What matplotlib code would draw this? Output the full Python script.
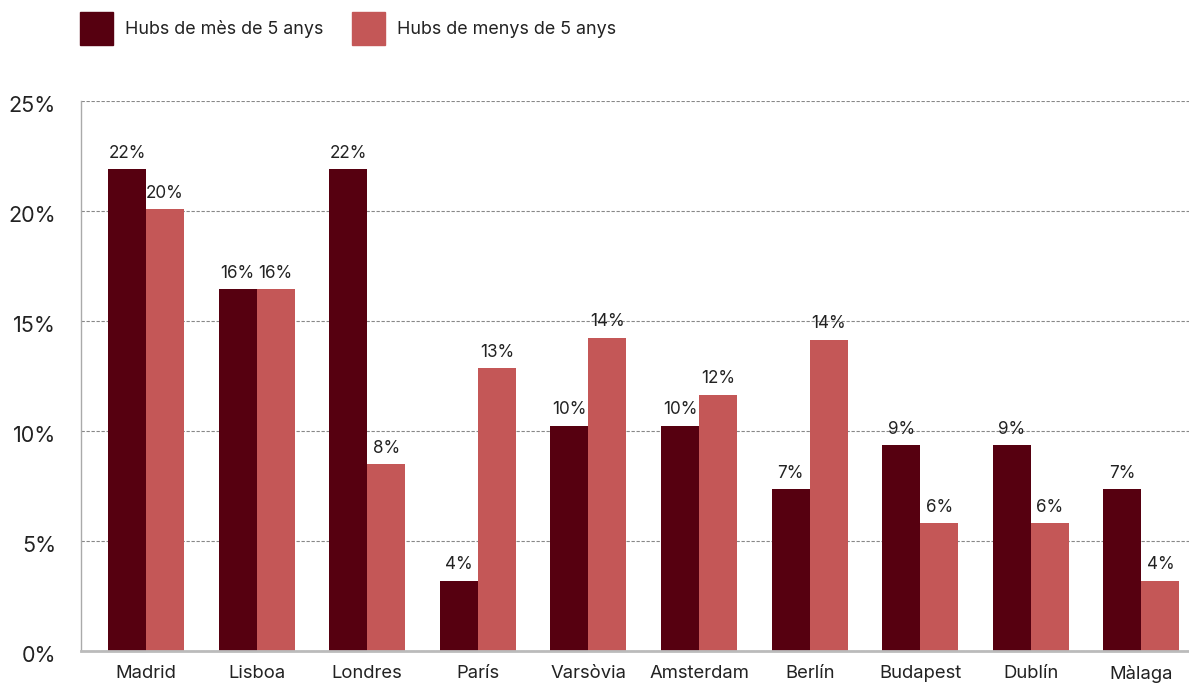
import matplotlib.pyplot as plt
import matplotlib.transforms as mtrans
from matplotlib.patches import Rectangle
import numpy as np

plt.rcParams['font.family'] = ['Inter', 'DejaVu Sans']

cities = ["Madrid", "Lisboa", "Londres", "París", "Varsòvia",
          "Amsterdam", "Berlín", "Budapest", "Dublín", "Màlaga"]
# bar heights (%)
older = [21.9, 16.45, 21.9, 3.2, 10.25, 10.25, 7.35, 9.35, 9.35, 7.35]
newer = [20.1, 16.45, 8.5, 12.85, 14.25, 11.65, 14.15, 5.8, 5.8, 3.2]
# labels as printed on the chart
older_labels = ["22%", "16%", "22%", "4%", "10%", "10%", "7%", "9%", "9%", "7%"]
newer_labels = ["20%", "16%", "8%", "13%", "14%", "12%", "14%", "6%", "6%", "4%"]
series_names = ["Hubs de mès de 5 anys", "Hubs de menys de 5 anys"]
yticks = [0, 5, 10, 15, 20, 25]

dark = "#560010"
light = "#C45757"
txt = "#222222"

W, H = 1189, 686
fig = plt.figure(figsize=(W/100, H/100), dpi=100)
ax = fig.add_axes([81/W, 1-651/H, 1-81/W, 550/H])

x = np.arange(len(cities))
w = 0.344
ax.bar(x, older, -w, align='edge', color=dark, zorder=3)
ax.bar(x, newer, w, align='edge', color=light, zorder=3)

for i in range(len(cities)):
    ax.text(x[i] - w/2, older[i] + 0.33, older_labels[i], ha='center',
            va='bottom', fontsize=12.3, color=txt)
    ax.text(x[i] + w/2, newer[i] + 0.33, newer_labels[i], ha='center',
            va='bottom', fontsize=12.3, color=txt)

ax.set_xlim(-0.588, 9.43)
ax.set_ylim(0, 25)
ax.set_yticks(yticks)
ax.set_yticklabels([f"{t}%" for t in yticks], fontsize=15.5, color=txt)
ax.set_xticks(x)
ax.set_xticklabels(cities, fontsize=13.3, color=txt)
ax.tick_params(axis='y', length=0, pad=18)
ax.tick_params(axis='x', length=0, pad=10)
# y tick labels sit a little below their gridlines in the original
off = mtrans.ScaledTranslation(0, -2.5/72, fig.dpi_scale_trans)
for lab in ax.get_yticklabels():
    lab.set_transform(lab.get_transform() + off)

ax.grid(axis='y', color='#888888', linestyle=(0, (3, 1.5)), linewidth=0.8,
        zorder=0)
for s in ['top', 'right']:
    ax.spines[s].set_visible(False)
ax.spines['left'].set_color('#aaaaaa')
ax.spines['left'].set_linewidth(1)
ax.spines['bottom'].set_color('#bbbbbb')
ax.spines['bottom'].set_linewidth(2)
ax.spines['bottom'].set_zorder(4)

# legend drawn by hand in figure pixels
for px, col, name, tx in [(80, dark, series_names[0], 125),
                          (352, light, series_names[1], 397)]:
    fig.add_artist(Rectangle((px/W, 1-45/H), 33/W, 33/H, color=col,
                             transform=fig.transFigure))
    fig.text(tx/W, 1-29/H, name, fontsize=12.9, color=txt, va='center')

fig.savefig("out.png", dpi=100)
